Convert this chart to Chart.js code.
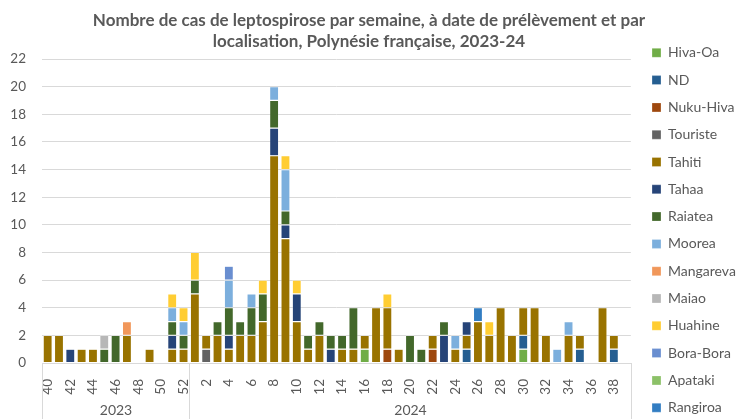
<!DOCTYPE html>
<html lang="fr">
<head>
<meta charset="utf-8">
<script src="https://cdn.jsdelivr.net/npm/chart.js@4"></script>
<style>
  html, body { margin: 0; padding: 0; background: #fff; }
  #wrap { width: 738px; height: 419px; }
</style>
</head>
<body>
<div id="wrap"><canvas id="casLepto"></canvas></div>
<script>
// Semaines : 2023 S40-S52 puis 2024 S1-S39
const semaines = [
  '40','41','42','43','44','45','46','47','48','49','50','51','52',
  '1','2','3','4','5','6','7','8','9','10','11','12','13','14','15','16','17','18','19','20',
  '21','22','23','24','25','26','27','28','29','30','31','32','33','34','35','36','37','38','39'
];
const annees = ['2023', '2024'];
const nbSemaines = [13, 39];

// Nombre de cas par localisation (2023 | 2024 S1-10 | S11-20 | S21-30 | S31-39)
const hivaOa    = [0,0,0,0,0,0,0,0,0,0,0,0,0, 0,0,0,0,0,0,0,0,0,0, 0,0,0,0,0,1,0,0,0,0, 0,0,0,0,0,0,0,0,0,1, 0,0,0,0,0,0,0,0,0];
const nd        = [0,0,0,0,0,0,0,0,0,0,0,0,0, 0,0,0,0,0,0,0,0,0,0, 0,0,0,0,0,0,0,0,0,0, 0,0,0,0,1,0,0,0,0,1, 0,0,0,0,1,0,0,1,0];
const nukuHiva  = [0,0,0,0,0,0,0,0,0,0,0,0,0, 0,0,0,0,0,0,0,0,0,0, 0,0,0,0,0,0,0,1,0,0, 0,1,0,0,0,0,0,0,0,0, 0,0,0,0,0,0,0,0,0];
const touriste  = [0,0,0,0,0,0,0,0,0,0,0,0,0, 0,1,0,0,0,0,0,0,0,0, 0,0,0,0,0,0,0,0,0,0, 0,0,0,0,0,0,0,0,0,0, 0,0,0,0,0,0,0,0,0];
const tahiti    = [2,2,0,1,1,0,0,2,0,1,0,1,1, 5,1,2,1,2,2,3,15,9,3, 1,2,0,1,1,1,4,3,1,0, 0,1,0,1,1,3,2,4,2,2, 4,2,0,2,1,0,4,1,0];
const tahaa     = [0,0,1,0,0,0,0,0,0,0,0,1,0, 0,0,0,1,0,0,0,2,1,2, 0,0,1,0,0,0,0,0,0,0, 0,0,2,0,1,0,0,0,0,0, 0,0,0,0,0,0,0,0,0];
const raiatea   = [0,0,0,0,0,1,2,0,0,0,0,1,1, 1,0,1,2,1,2,2,2,1,0, 1,1,1,1,3,0,0,0,0,2, 1,0,1,0,0,0,0,0,0,0, 0,0,0,0,0,0,0,0,0];
const moorea    = [0,0,0,0,0,0,0,0,0,0,0,1,1, 0,0,0,2,0,1,0,1,3,0, 0,0,0,0,0,0,0,0,0,0, 0,0,0,1,0,0,0,0,0,0, 0,0,1,1,0,0,0,0,0];
const mangareva = [0,0,0,0,0,0,0,1,0,0,0,0,0, 0,0,0,0,0,0,0,0,0,0, 0,0,0,0,0,0,0,0,0,0, 0,0,0,0,0,0,0,0,0,0, 0,0,0,0,0,0,0,0,0];
const maiao     = [0,0,0,0,0,1,0,0,0,0,0,0,0, 0,0,0,0,0,0,0,0,0,0, 0,0,0,0,0,0,0,0,0,0, 0,0,0,0,0,0,0,0,0,0, 0,0,0,0,0,0,0,0,0];
const huahine   = [0,0,0,0,0,0,0,0,0,0,0,1,1, 2,0,0,0,0,0,1,0,1,1, 0,0,0,0,0,0,0,1,0,0, 0,0,0,0,0,0,1,0,0,0, 0,0,0,0,0,0,0,0,0];
const boraBora  = [0,0,0,0,0,0,0,0,0,0,0,0,0, 0,0,0,1,0,0,0,0,0,0, 0,0,0,0,0,0,0,0,0,0, 0,0,0,0,0,0,0,0,0,0, 0,0,0,0,0,0,0,0,0];
const apataki   = [0,0,0,0,0,0,0,0,0,0,0,0,0, 0,0,0,0,0,0,0,0,0,0, 0,0,0,0,0,0,0,0,0,0, 0,0,0,0,0,0,0,0,0,0, 0,0,0,0,0,0,0,0,0];
const rangiroa  = [0,0,0,0,0,0,0,0,0,0,0,0,0, 0,0,0,0,0,0,0,0,0,0, 0,0,0,0,0,0,0,0,0,0, 0,0,0,0,0,1,0,0,0,0, 0,0,0,0,0,0,0,0,0];

const gris = '#595959';
const police = 'Lato';

function serie(label, data, couleur) {
  return {
    label: label,
    data: data,
    backgroundColor: couleur,
    borderColor: 'rgba(255,255,255,0.45)',
    borderWidth: 0.6,
    borderSkipped: false,
    barPercentage: 0.8,
    categoryPercentage: 1.0
  };
}

// Axe des années sous les semaines
const axeAnnees = {
  id: 'axeAnnees',
  afterDraw(chart) {
    const x = chart.scales.x;
    const ctx = chart.ctx;
    const demi = (x.getPixelForValue(1) - x.getPixelForValue(0)) / 2;
    const haut = chart.chartArea.bottom;
    const bas = chart.height;
    ctx.save();
    ctx.strokeStyle = '#D9D9D9';
    ctx.lineWidth = 1;
    ctx.fillStyle = gris;
    ctx.font = '14px ' + police;
    ctx.textAlign = 'center';
    ctx.textBaseline = 'middle';
    let debut = 0;
    annees.forEach((a, k) => {
      const fin = debut + nbSemaines[k] - 1;
      const g = Math.round(x.getPixelForValue(debut) - demi) + 0.5;
      const d = Math.round(x.getPixelForValue(fin) + demi) + 0.5;
      ctx.beginPath();
      ctx.moveTo(g, haut); ctx.lineTo(g, bas);
      ctx.moveTo(d, haut); ctx.lineTo(d, bas);
      ctx.stroke();
      ctx.fillText(a, (g + d) / 2, bas - 9);
      debut = fin + 1;
    });
    ctx.restore();
  }
};

// Titre centré sur toute la largeur, légende calée à droite
const placement = {
  id: 'placement',
  afterLayout(chart) {
    const t = chart.titleBlock;
    t.left = 0;
    t.right = chart.width;
    const lg = chart.legend;
    const w = lg.width, h = lg.height;
    lg.left = 652 - lg.options.labels.padding;
    lg.right = lg.left + w;
    lg.top = 32.5;
    lg.bottom = lg.top + h;
  }
};

const ctx = document.getElementById('casLepto').getContext('2d');

new Chart(ctx, {
  type: 'bar',
  data: {
    labels: semaines,
    datasets: [
      serie('Hiva-Oa', hivaOa, '#70AD47'),
      serie('ND', nd, '#255E91'),
      serie('Nuku-Hiva', nukuHiva, '#9E480E'),
      serie('Touriste', touriste, '#636363'),
      serie('Tahiti', tahiti, '#997300'),
      serie('Tahaa', tahaa, '#264478'),
      serie('Raiatea', raiatea, '#43682B'),
      serie('Moorea', moorea, '#7CAFDD'),
      serie('Mangareva', mangareva, '#F1975A'),
      serie('Maiao', maiao, '#B7B7B7'),
      serie('Huahine', huahine, '#FFCD33'),
      serie('Bora-Bora', boraBora, '#698ED0'),
      serie('Apataki', apataki, '#8CC168'),
      serie('Rangiroa', rangiroa, '#327DC2')
    ]
  },
  options: {
    responsive: true,
    maintainAspectRatio: false,
    animation: false,
    layout: { padding: { left: 0, right: 0, top: 0, bottom: 0 } },
    scales: {
      x: {
        stacked: true,
        grid: { display: false },
        border: { display: true, color: '#D9D9D9' },
        ticks: {
          autoSkip: false,
          minRotation: 90,
          maxRotation: 90,
          padding: 8,
          color: gris,
          font: { family: police, size: 13.5 },
          callback: function(v, i) { return i % 2 === 0 ? semaines[i] : ''; }
        },
        afterFit(s) { s.height = 56; }
      },
      y: {
        stacked: true,
        min: 0,
        max: 22,
        grid: { color: '#D9D9D9', lineWidth: 1, drawTicks: false },
        border: { display: false },
        ticks: {
          stepSize: 2,
          padding: 16,
          color: gris,
          font: { family: police, size: 13.5 }
        },
        afterFit(s) { s.width = 42; }
      }
    },
    plugins: {
      title: {
        display: true,
        fullSize: false,
        text: ['Nombre de cas de leptospirose par semaine, à date de prélèvement et par',
               'localisation, Polynésie française, 2023-24'],
        color: gris,
        font: { family: police, size: 17, weight: 'bold', lineHeight: 1.25 },
        padding: { top: 9.4, bottom: 7.1 }
      },
      legend: {
        display: true,
        position: 'right',
        align: 'start',
        fullSize: true,
        labels: {
          boxWidth: 9,
          boxHeight: 9,
          padding: 13.3,
          color: gris,
          font: { family: police, size: 14 }
        }
      },
      tooltip: { enabled: true }
    }
  },
  plugins: [axeAnnees, placement]
});
</script>
</body>
</html>
